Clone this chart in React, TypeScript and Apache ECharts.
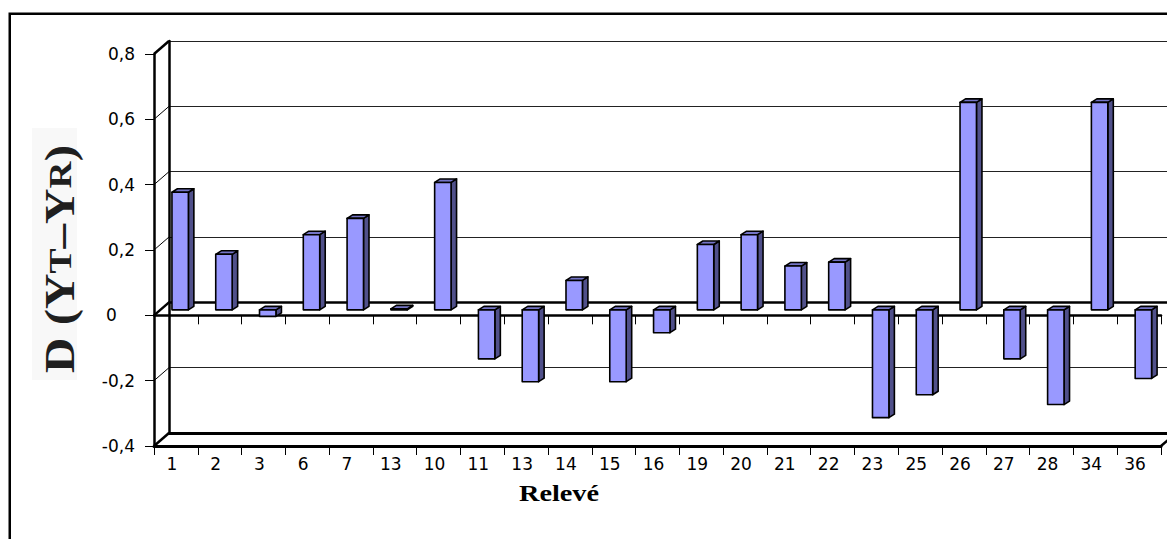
import React, { useEffect, useRef } from 'react';
import * as echarts from 'echarts';

// ---- data ----
const categories = ['1', '2', '3', '6', '7', '13', '10', '11', '13', '14', '15', '16', '19', '20', '21', '22', '23', '25', '26', '27', '28', '34', '36'];
const deviations = [0.36, 0.17, -0.02, 0.23, 0.28, 0.003, 0.39, -0.15, -0.22, 0.09, -0.22, -0.07, 0.2, 0.23, 0.134, 0.146, -0.33, -0.26, 0.635, -0.15, -0.29, 0.635, -0.21];
const yTicks = [-0.4, -0.2, 0, 0.2, 0.4, 0.6, 0.8];
const Y_MIN = -0.4;
const Y_MAX = 0.8;
const Y_STEP = 0.2;
const yTitleText = 'D (Y{s|T}–Y{s|R})';
const xTitleText = 'Relevé';

// ---- layout / style ----
const W = 1167;
const H = 539;
const FRONT = { left: 154, top: 54, width: 1007, height: 392 };
const DX = 15;
const DY = -13;
const BACK = { left: FRONT.left + DX, top: FRONT.top + DY, width: FRONT.width, height: FRONT.height };
const BAR_SHIFT_Y = -5.5;
const BAR_DEPTH_X = 5.5;
const BAR_DEPTH_Y = -3.5;
const FRONT_COLOR = '#9999FF';
const SIDE_COLOR = '#50508A';
const TOP_COLOR = '#7474C6';
const LABEL_FONT = 'DejaVu Sans';

function fmtY(v: number): string {
  const r = Math.round(v * 10) / 10;
  if (r === 0) return '';
  return r.toFixed(1).replace('.', ',');
}

export default function App() {
  const ref = useRef<HTMLDivElement>(null);

  useEffect(() => {
    if (!ref.current) return;
    const chart = echarts.init(ref.current, null, { renderer: 'svg' });

    const catAxisCommon = {
      type: 'category' as const,
      data: categories,
      boundaryGap: true,
      splitLine: { show: false },
    };

    const option: any = {
      animation: false,
      backgroundColor: '#ffffff',
      grid: [
        { ...FRONT, containLabel: false },
        { ...BACK, containLabel: false },
      ],
      xAxis: [
        {
          ...catAxisCommon,
          gridIndex: 0,
          position: 'bottom',
          axisLine: { show: true, onZero: false, lineStyle: { color: '#000', width: 3 } },
          axisTick: { show: true, length: 9, lineStyle: { color: '#000', width: 1 } },
          axisLabel: {
            show: true,
            interval: 0,
            margin: 9,
            color: '#000',
            fontSize: 17,
            fontFamily: LABEL_FONT,
            formatter: (v: string) => '{c|' + v + '}',
            rich: { c: { fontSize: 17, fontFamily: LABEL_FONT, color: '#000', padding: [0, 8, 0, 0] } },
          },
        },
        {
          ...catAxisCommon,
          gridIndex: 0,
          position: 'top',
          axisLine: { show: true, onZero: true, lineStyle: { color: '#000', width: 2.5 } },
          axisTick: { show: true, inside: true, length: 9, lineStyle: { color: '#000', width: 1 } },
          axisLabel: { show: false },
        },
        {
          ...catAxisCommon,
          gridIndex: 1,
          position: 'bottom',
          axisLine: { show: true, onZero: false, lineStyle: { color: '#000', width: 3 } },
          axisTick: { show: false },
          axisLabel: { show: false },
        },
        {
          ...catAxisCommon,
          gridIndex: 1,
          position: 'top',
          axisLine: { show: true, onZero: true, lineStyle: { color: '#000', width: 2.5 } },
          axisTick: { show: false },
          axisLabel: { show: false },
        },
      ],
      yAxis: [
        {
          gridIndex: 0,
          type: 'value',
          min: Y_MIN,
          max: Y_MAX,
          interval: Y_STEP,
          position: 'left',
          axisLine: { show: true, onZero: false, lineStyle: { color: '#000', width: 2.5 } },
          axisTick: { show: true, length: 9, lineStyle: { color: '#000', width: 1 } },
          axisLabel: {
            margin: 19,
            color: '#000',
            fontSize: 17,
            fontFamily: LABEL_FONT,
            formatter: fmtY,
          },
          splitLine: { show: false },
        },
        {
          gridIndex: 1,
          type: 'value',
          min: Y_MIN,
          max: Y_MAX,
          interval: Y_STEP,
          position: 'left',
          axisLine: { show: true, onZero: false, lineStyle: { color: '#000', width: 2.5 } },
          axisTick: { show: false },
          axisLabel: { show: false },
          splitLine: { show: true, lineStyle: { color: '#222', width: 1 } },
        },
      ],
      series: [
        {
          name: 'walls',
          type: 'custom',
          xAxisIndex: 0,
          yAxisIndex: 0,
          silent: true,
          clip: false,
          z: 1,
          data: yTicks.map((v) => [0, v]),
          encode: { x: 0, y: 1 },
          renderItem: (params: any, api: any) => {
            const v = api.value(1);
            const p = api.coord([0, v]);
            const cw = api.size([1, 0])[0];
            const xL = p[0] - cw / 2;
            const isZero = Math.abs(v) < 1e-9;
            const thick = isZero || Math.abs(v - Y_MIN) < 1e-9 || Math.abs(v - Y_MAX) < 1e-9;
            const children: any[] = [
              {
                type: 'line',
                shape: { x1: xL, y1: p[1], x2: xL + DX, y2: p[1] + DY },
                style: { stroke: '#000', lineWidth: thick ? 2.5 : 1 },
              },
            ];
            if (isZero) {
              children.push({
                type: 'text',
                x: xL - 48,
                y: p[1],
                style: {
                  text: '0',
                  fontSize: 17,
                  fontFamily: LABEL_FONT,
                  fill: '#000',
                  align: 'left',
                  verticalAlign: 'middle',
                },
              });
            }
            if (Math.abs(v - Y_MIN) < 1e-9) {
              const q = api.coord([categories.length - 1, v]);
              const xR = q[0] + cw / 2;
              children.push({
                type: 'line',
                shape: { x1: xR, y1: q[1], x2: xR + DX, y2: q[1] + DY },
                style: { stroke: '#000', lineWidth: 2.5 },
              });
            }
            return { type: 'group', children };
          },
        },
        {
          name: 'D',
          type: 'custom',
          xAxisIndex: 0,
          yAxisIndex: 0,
          silent: true,
          clip: false,
          z: 3,
          data: deviations.map((v, i) => [i, v]),
          encode: { x: 0, y: 1 },
          renderItem: (params: any, api: any) => {
            const i = api.value(0);
            const v = api.value(1);
            const z0 = api.coord([i, 0]);
            const zv = api.coord([i, v]);
            const cw = api.size([1, 0])[0];
            const bw = cw * 0.375;
            const fx0 = z0[0] - cw * 0.09;
            const fx1 = fx0 + bw;
            const yt = Math.min(z0[1], zv[1]) + BAR_SHIFT_Y;
            const yb = Math.max(z0[1], zv[1]) + BAR_SHIFT_Y;
            const stroke = { stroke: '#000', lineWidth: 1.6, lineJoin: 'round' };
            return {
              type: 'group',
              children: [
                {
                  type: 'polygon',
                  shape: { points: [[fx1, yt], [fx1 + BAR_DEPTH_X, yt + BAR_DEPTH_Y], [fx1 + BAR_DEPTH_X, yb + BAR_DEPTH_Y], [fx1, yb]] },
                  style: { fill: SIDE_COLOR, ...stroke },
                },
                {
                  type: 'polygon',
                  shape: { points: [[fx0, yt], [fx1, yt], [fx1 + BAR_DEPTH_X, yt + BAR_DEPTH_Y], [fx0 + BAR_DEPTH_X, yt + BAR_DEPTH_Y]] },
                  style: { fill: TOP_COLOR, ...stroke },
                },
                {
                  type: 'rect',
                  shape: { x: fx0, y: yt, width: bw, height: Math.max(yb - yt, 0.5) },
                  style: { fill: FRONT_COLOR, ...stroke },
                },
              ],
            };
          },
        },
      ],
      graphic: [
        {
          type: 'rect',
          silent: true,
          z: 100,
          shape: { x: 9.75, y: 13.75, width: 1400, height: 800 },
          style: { fill: 'none', stroke: '#000', lineWidth: 2.5 },
        },
        {
          type: 'rect',
          silent: true,
          z: 0,
          shape: { x: 32, y: 128, width: 45, height: 252 },
          style: { fill: '#f8f8f8' },
        },
        {
          type: 'text',
          silent: true,
          z: 101,
          x: 60,
          y: 259,
          rotation: Math.PI / 2,
          scaleX: 1.17,
          style: {
            text: yTitleText,
            fontSize: 42,
            fontWeight: 'bold',
            fontFamily: 'Liberation Serif',
            fill: '#1f1f1f',
            align: 'center',
            verticalAlign: 'middle',
            textAlign: 'center',
            textVerticalAlign: 'middle',
            rich: {
              s: { fontSize: 32, fontWeight: 'bold', fontFamily: 'Liberation Serif', fill: '#1f1f1f' },
            },
          },
        },
        {
          type: 'text',
          silent: true,
          z: 101,
          x: 559,
          y: 493,
          scaleX: 1.23,
          style: {
            text: xTitleText,
            fontSize: 23,
            fontWeight: 'bold',
            fontFamily: 'Liberation Serif',
            fill: '#000',
            align: 'center',
            verticalAlign: 'middle',
            textAlign: 'center',
            textVerticalAlign: 'middle',
          },
        },
      ],
    };

    chart.setOption(option);
    return () => {
      chart.dispose();
    };
  }, []);

  return (
    <div
      ref={ref}
      style={{ position: 'fixed', left: 0, top: 0, width: W, height: H, background: '#fff' }}
    />
  );
}
